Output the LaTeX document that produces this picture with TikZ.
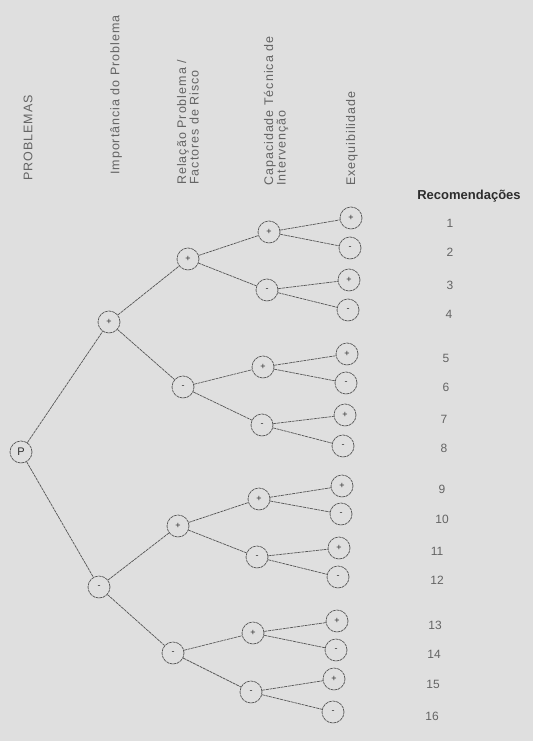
\documentclass[tikz,border=0pt]{standalone}
\usepackage{fontspec}
\setmainfont{Liberation Sans}
\newfontfamily\hdrfont[LetterSpace=8]{Liberation Sans}
\definecolor{bg}{RGB}{223,223,223}
\definecolor{ink}{RGB}{85,85,85}
\definecolor{txt}{RGB}{100,100,100}
\definecolor{dark}{RGB}{45,45,45}
\begin{document}
\begin{tikzpicture}[x=1pt,y=-1pt,
  nd/.style={circle,draw=ink,line width=0.7pt,dash pattern=on 3pt off 0.7pt,minimum size=22pt,inner sep=0pt,font=\fontsize{9}{9}\selectfont,text=dark},
  edge/.style={draw=ink,line width=0.7pt,dash pattern=on 3pt off 0.7pt},
  hdr/.style={rotate=90,anchor=west,inner sep=0pt,align=left,text=txt,font=\hdrfont\fontsize{12.5}{12.5}\selectfont},
  num/.style={text=txt,font=\fontsize{12}{12}\selectfont}]
\fill[bg] (0,0) rectangle (533,741);
\useasboundingbox (0,0) rectangle (533,741);
% headers
\node[hdr] (h0) at (28,181) {PROBLEMAS};
\node[hdr] (h1) at (116,175) {Importância do Problema};
\node[hdr] (h2) at (188,185) {Relação Problema /\\Factores de Risco};
\node[hdr] (h3) at (276,186) {Capacidade Técnica de\\Intervenção};
\node[hdr] (h4) at (352,186) {Exequibilidade};
\node[text=dark,font=\bfseries\fontsize{13}{13}\selectfont] (h5) at (469,196) {Recomendações};
% tree nodes
\node[nd,font=\fontsize{11}{11}\selectfont] (P) at (21,452) {P};
\node[nd] (A) at (109,322) {+};
\node[nd] (B) at (99,587) {-};
\node[nd] (s1) at (188,259) {+};
\node[nd] (s2) at (183,387) {-};
\node[nd] (s3) at (178,526) {+};
\node[nd] (s4) at (173,653) {-};
\node[nd] (q1) at (269,232) {+};
\node[nd] (q2) at (267,290) {-};
\node[nd] (q3) at (263,367) {+};
\node[nd] (q4) at (262,425) {-};
\node[nd] (q5) at (259,499) {+};
\node[nd] (q6) at (257,557) {-};
\node[nd] (q7) at (253,633) {+};
\node[nd] (q8) at (251,692) {-};
\node[nd] (r1) at (351,218) {+};
\node[nd] (r2) at (350,248) {-};
\node[nd] (r3) at (349,280) {+};
\node[nd] (r4) at (348,310) {-};
\node[nd] (r5) at (347,354) {+};
\node[nd] (r6) at (346,383) {-};
\node[nd] (r7) at (345,415) {+};
\node[nd] (r8) at (343,446) {-};
\node[nd] (r9) at (342,486) {+};
\node[nd] (r10) at (341,514) {-};
\node[nd] (r11) at (339,548) {+};
\node[nd] (r12) at (338,577) {-};
\node[nd] (r13) at (337,621) {+};
\node[nd] (r14) at (336,650) {-};
\node[nd] (r15) at (334,679) {+};
\node[nd] (r16) at (333,712) {-};
% numbers
\node[num] (n1) at (450,223) {1};
\node[num] (n2) at (450,252) {2};
\node[num] (n3) at (450,285) {3};
\node[num] (n4) at (449,314) {4};
\node[num] (n5) at (446,358) {5};
\node[num] (n6) at (446,387) {6};
\node[num] (n7) at (444,419) {7};
\node[num] (n8) at (444,448) {8};
\node[num] (n9) at (442,489) {9};
\node[num] (n10) at (442,519) {10};
\node[num] (n11) at (437,551) {11};
\node[num] (n12) at (437,580) {12};
\node[num] (n13) at (435,625) {13};
\node[num] (n14) at (434,654) {14};
\node[num] (n15) at (433,684) {15};
\node[num] (n16) at (432,716) {16};
% edges
\draw[edge] (P) -- (A);
\draw[edge] (P) -- (B);
\draw[edge] (A) -- (s1);
\draw[edge] (A) -- (s2);
\draw[edge] (B) -- (s3);
\draw[edge] (B) -- (s4);
\draw[edge] (s1) -- (q1);
\draw[edge] (s1) -- (q2);
\draw[edge] (s2) -- (q3);
\draw[edge] (s2) -- (q4);
\draw[edge] (s3) -- (q5);
\draw[edge] (s3) -- (q6);
\draw[edge] (s4) -- (q7);
\draw[edge] (s4) -- (q8);
\foreach \i in {1,...,8}{
  \pgfmathtruncatemacro{\a}{2*\i-1}
  \pgfmathtruncatemacro{\b}{2*\i}
  \draw[edge] (q\i) -- (r\a);
  \draw[edge] (q\i) -- (r\b);
}
\end{tikzpicture}
\end{document}
